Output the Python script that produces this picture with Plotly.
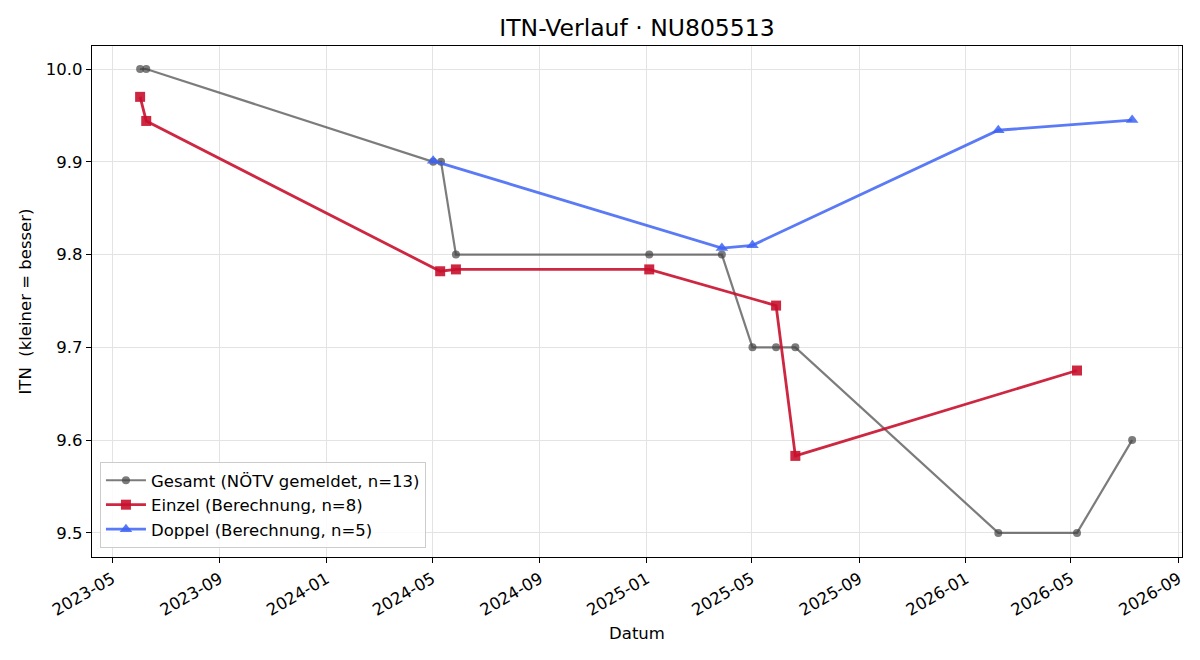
import plotly.graph_objects as go

# ---- data ----
gesamt_dates = ["2023-06-02", "2023-06-09", "2024-05-02", "2024-05-11", "2024-05-28",
                "2025-01-04", "2025-03-28", "2025-05-02", "2025-05-29", "2025-06-20",
                "2026-02-07", "2026-05-08", "2026-07-10"]
gesamt_vals = [10.0, 10.0, 9.9, 9.9, 9.8, 9.8, 9.8, 9.7, 9.7, 9.7, 9.5, 9.5, 9.6]

einzel_dates = ["2023-06-02", "2023-06-09", "2024-05-10", "2024-05-28",
                "2025-01-04", "2025-05-29", "2025-06-20", "2026-05-08"]
einzel_vals = [9.970, 9.944, 9.782, 9.784, 9.784, 9.745, 9.583, 9.675]

doppel_dates = ["2024-05-02", "2025-03-28", "2025-05-02", "2026-02-07", "2026-07-10"]
doppel_vals = [9.901, 9.807, 9.810, 9.934, 9.945]

x_tickvals = ["2023-05-01", "2023-09-01", "2024-01-01", "2024-05-01", "2024-09-01",
              "2025-01-01", "2025-05-01", "2025-09-01", "2026-01-01", "2026-05-01",
              "2026-09-01"]
x_ticktext = ["2023-05", "2023-09", "2024-01", "2024-05", "2024-09", "2025-01",
              "2025-05", "2025-09", "2026-01", "2026-05", "2026-09"]
y_tickvals = [9.5, 9.6, 9.7, 9.8, 9.9, 10.0]

FONT = "DejaVu Sans, Liberation Sans, sans-serif"
FS = 16.5

fig = go.Figure()
fig.add_trace(go.Scatter(
    x=gesamt_dates, y=gesamt_vals, mode="lines+markers",
    name="Gesamt (NÖTV gemeldet, n=13)",
    line=dict(color="rgba(68,68,68,0.7)", width=2.2),
    marker=dict(symbol="circle", size=8, color="rgba(68,68,68,0.7)"),
))
fig.add_trace(go.Scatter(
    x=einzel_dates, y=einzel_vals, mode="lines+markers",
    name="Einzel (Berechnung, n=8)",
    line=dict(color="rgba(200,16,46,0.9)", width=2.8),
    marker=dict(symbol="square", size=10, color="rgba(200,16,46,0.9)"),
))
fig.add_trace(go.Scatter(
    x=doppel_dates, y=doppel_vals, mode="lines+markers",
    name="Doppel (Berechnung, n=5)",
    line=dict(color="rgba(61,99,245,0.85)", width=2.8),
    marker=dict(symbol="triangle-up", size=11, color="rgba(61,99,245,0.85)"),
))

fig.update_layout(
    width=1200, height=660,
    margin=dict(l=92, r=18, t=46, b=103),
    paper_bgcolor="white", plot_bgcolor="white",
    font=dict(family=FONT, size=FS, color="black"),
    title=dict(text="ITN-Verlauf · NU805513", x=0.5, xref="paper", xanchor="center",
               y=1 - 28 / 660, yanchor="middle", font=dict(size=23.5, color="black")),
    showlegend=True,
    legend=dict(x=0.0073, y=0.0176, xanchor="left", yanchor="bottom",
                bgcolor="rgba(255,255,255,0.85)", bordercolor="#cccccc", borderwidth=1,
                font=dict(size=FS), tracegroupgap=0, itemwidth=40),
)
fig.update_xaxes(
    type="date", range=["2023-04-08", "2026-09-05"],
    tickvals=x_tickvals, ticktext=x_ticktext, tickangle=-30,
    ticks="outside", ticklen=5, tickcolor="black", tickwidth=1,
    showgrid=True, gridcolor="#e3e3e3", gridwidth=1,
    showline=True, linecolor="black", linewidth=1.2, mirror=True,
    zeroline=False, tickfont=dict(size=FS),
    title=dict(text="Datum", font=dict(size=FS), standoff=8),
)
fig.update_yaxes(
    range=[9.474, 10.0248], tickvals=y_tickvals, tickformat=".1f",
    ticks="outside", ticklen=5, tickcolor="black", tickwidth=1,
    showgrid=True, gridcolor="#e3e3e3", gridwidth=1,
    showline=True, linecolor="black", linewidth=1.2, mirror=True,
    zeroline=False, tickfont=dict(size=FS),
    title=dict(text="ITN \u00a0(kleiner = besser)", font=dict(size=FS), standoff=10),
)

fig.write_html("out.html")
